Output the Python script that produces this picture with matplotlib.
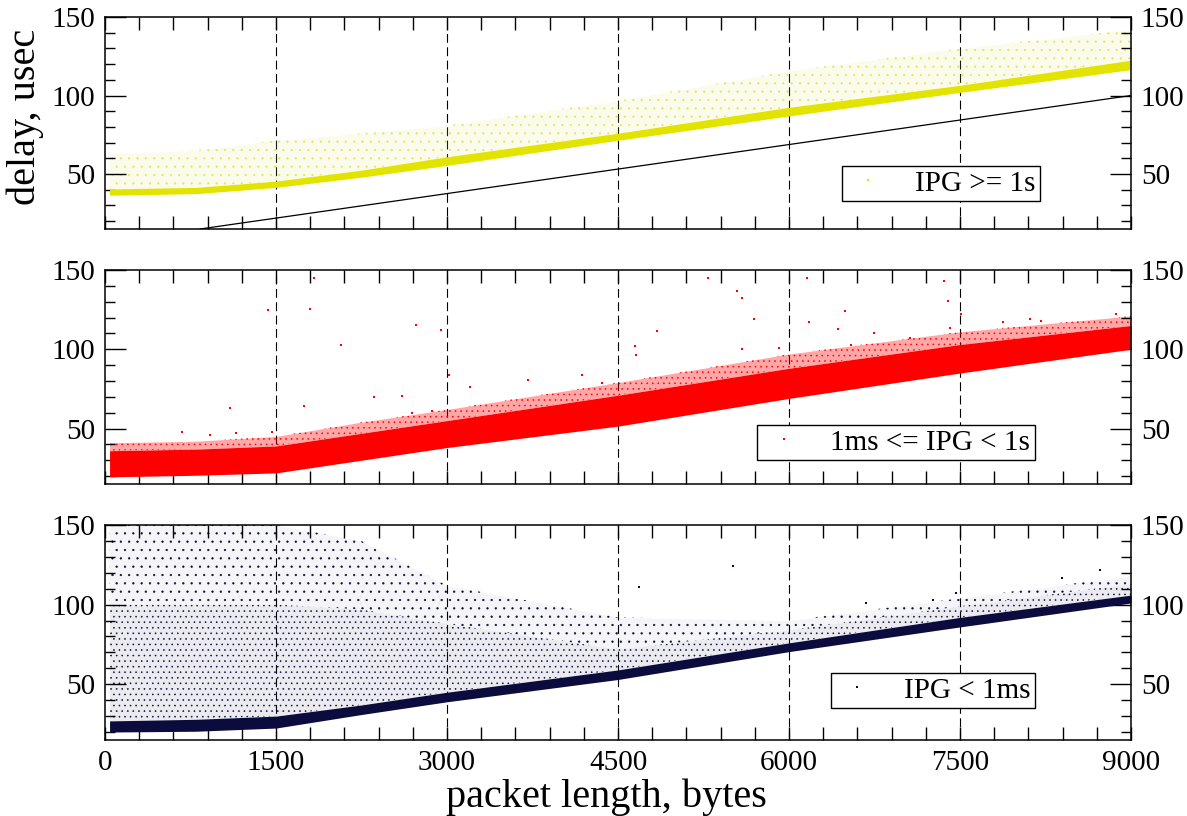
import matplotlib
matplotlib.use('Agg')
import matplotlib.pyplot as plt
from matplotlib.lines import Line2D
from matplotlib.ticker import MultipleLocator

plt.rcParams['font.family'] = ['Liberation Serif', 'DejaVu Serif']
plt.rcParams['hatch.linewidth'] = 0.4

# -------------------- DATA --------------------
pkt_len = [40, 800, 1500, 2250, 3000, 4500, 6000, 7500, 9000]

# IPG >= 1s : dense band and the faint cloud above it
slow_lo = [36.5, 37.5, 41.5, 48, 55.5, 71.5, 87, 102, 116.5]
slow_hi = [40.5, 41.5, 45.5, 52.5, 61, 76, 92.5, 106.5, 122.5]
slow_cloud = [63, 65, 71.5, 76, 81, 96.7, 115.7, 130, 142]
ref_x = [833, 9000]          # black reference line, top panel
ref_y = [15, 100]

# 1ms <= IPG < 1s : band, speckled fringe, stray points
mid_lo = [19.5, 20.5, 22, 30, 38, 51.5, 69, 85, 100]
mid_hi = [36, 37, 39, 47, 55, 71, 88, 103, 115]
mid_fringe = [41, 42, 45, 54, 62, 79, 97, 111, 121]
mid_out_x = [1830, 1797, 1433, 2073, 2724, 2950, 1096, 1743, 2360, 2602,
             2697, 3017, 3203, 3708, 4180, 674, 917, 1146, 1466, 2865,
             5292, 6160, 7362, 5542, 5592, 7396, 5692, 6177, 4840, 5592,
             5909, 4650, 4657, 6494, 6427, 6744, 7061, 7412, 7512, 7880,
             8114, 8214, 8865, 6544, 4356]
mid_out_y = [145, 125.6, 125, 103, 115, 112, 63, 64, 70, 70.6,
             60, 84, 76, 80.6, 84, 48, 46, 47, 48, 61,
             145, 144.7, 143, 137, 132.6, 130.5, 119, 117, 111.6, 100,
             100.7, 102, 96.5, 124, 112.6, 110, 107, 113.5, 122, 117,
             119, 118, 122, 103, 78.5]

# IPG < 1ms : band, dense scatter, sparse scatter, stray points
fast_lo = [20, 20.5, 22.5, 31, 39, 53, 70.5, 86, 101]
fast_hi = [27, 28, 30, 37, 45, 59, 76, 92, 106]
fast_mid = [100, 100, 100, 97, 88, 72, 84, 99, 113]
fast_top = [150, 150, 150, 140, 112, 92, 90, 104, 118]
fast_out_x = [5509, 4684, 8398, 8732, 7462, 7262, 6678]
fast_out_y = [124.5, 110.9, 117, 121.5, 107, 103, 101]

labels = ['IPG >= 1s', '1ms <= IPG < 1s', 'IPG < 1ms']
x_ticks = [0, 1500, 3000, 4500, 6000, 7500, 9000]
y_ticks = [50, 100, 150]

YELLOW = '#e3e300'
PALE = '#e4e46a'
RED = '#ff0000'
NAVY = '#0b0b3d'

# -------------------- FIGURE --------------------
fig = plt.figure(figsize=(11.87, 8.16), dpi=100)
L, R = 105 / 1187, 1131 / 1187
boxes = [(17, 229), (270, 484), (525, 740)]   # top/bottom pixel rows
axes = []
for top, bot in boxes:
    ax = fig.add_axes([L, 1 - bot / 816, R - L, (bot - top) / 816])
    axes.append(ax)


def style(ax, bottom_labels):
    ax.set_xlim(0, 9000)
    ax.set_ylim(15, 150)
    ax.set_xticks(x_ticks)
    ax.xaxis.set_minor_locator(MultipleLocator(300))
    ax.set_yticks(y_ticks)
    ax.yaxis.set_minor_locator(MultipleLocator(10))
    ax.tick_params(which='both', direction='in', top=True, right=True,
                   labelright=True, labelbottom=bottom_labels,
                   width=1.0, labelsize=21, pad=7)
    ax.tick_params(axis='x', which='both', length=9.5)
    ax.tick_params(axis='y', which='major', length=15)
    ax.tick_params(axis='y', which='minor', length=7)
    for s in ax.spines.values():
        s.set_linewidth(1.1)
    for xv in x_ticks[1:-1]:
        ax.axvline(xv, color='k', lw=0.8, ls=(0, (8, 4)), zorder=0.5)


def cloud(ax, lo, hi, color, hatch, tint):
    # scattered points drawn as a tinted, dotted area between two edges
    ax.fill_between(pkt_len, lo, hi, color=color, alpha=tint,
                    linewidth=0, zorder=0.8)
    ax.fill_between(pkt_len, lo, hi, facecolor='none', edgecolor=color,
                    hatch=hatch, linewidth=0, zorder=1)


def add_legend(ax, color, label, right, bottom):
    h = Line2D([0], [0], ls='none', marker='s', markersize=1.6,
               color=color, markeredgewidth=0)
    leg = ax.legend([h], [label], loc='lower right',
                    bbox_to_anchor=(right, bottom), borderaxespad=0,
                    fontsize=21, fancybox=False, framealpha=1,
                    edgecolor='k', borderpad=0.15, handlelength=1.5,
                    handletextpad=0.85)
    leg.get_frame().set_linewidth(1.0)
    leg.set_zorder(5)


# top panel
ax = axes[0]
style(ax, False)
cloud(ax, slow_hi, slow_cloud, PALE, '..', 0.12)
ax.fill_between(pkt_len, slow_lo, slow_hi, color=YELLOW, linewidth=0,
                zorder=2)
ax.plot(ref_x, ref_y, color='k', lw=0.9, zorder=3)
add_legend(ax, YELLOW, labels[0], 0.911, 0.132)

# middle panel
ax = axes[1]
style(ax, False)
cloud(ax, mid_hi, mid_fringe, RED, '...', 0.35)
ax.fill_between(pkt_len, mid_lo, mid_hi, color=RED, linewidth=0, zorder=2)
ax.scatter(mid_out_x, mid_out_y, s=3, color=RED, marker='s',
           linewidths=0, zorder=2)
add_legend(ax, RED, labels[1], 0.906, 0.112)

# bottom panel
ax = axes[2]
style(ax, True)
cloud(ax, fast_mid, fast_top, NAVY, '..', 0.04)
cloud(ax, fast_hi, fast_mid, NAVY, '...', 0.08)
ax.fill_between(pkt_len, fast_lo, fast_hi, color=NAVY, linewidth=0,
                zorder=2)
ax.scatter(fast_out_x, fast_out_y, s=3, color=NAVY, marker='s',
           linewidths=0, zorder=2)
add_legend(ax, NAVY, labels[2], 0.906, 0.149)

fig.text(25 / 1187, 1 - 117 / 816, 'delay, usec', rotation=90,
         ha='center', va='center', fontsize=29)
fig.text(606 / 1187, 1 - 797 / 816, 'packet length, bytes',
         ha='center', va='center', fontsize=29)

fig.savefig('out.png', dpi=100)
